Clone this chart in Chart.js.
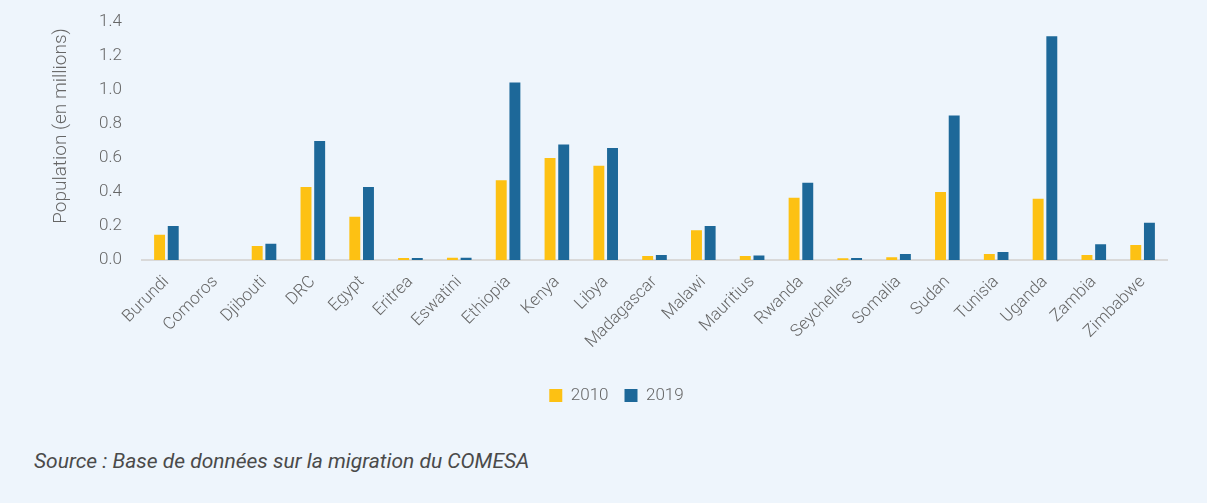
<!DOCTYPE html>
<html>
<head>
<meta charset="utf-8">
<script src="https://cdn.jsdelivr.net/npm/chart.js@4/dist/chart.umd.min.js"></script>
<style>
    html, body { margin: 0; padding: 0; background: #eef5fc; }
    .wrap { position: relative; width: 1207px; height: 503px; }
    #migration-chart { position: absolute; left: 0; top: 0; }
    .source {
        position: absolute; left: 34px; top: 449px;
        font-family: Roboto, sans-serif; font-style: italic; font-size: 21px;
        color: #4a4a4a;
    }
</style>
</head>
<body>
<div class="wrap">
    <canvas id="migration-chart" width="1207" height="420"></canvas>
    <div class="source">Source : Base de données sur la migration du COMESA</div>
</div>
<script>
const countries = ['Burundi', 'Comoros', 'Djibouti', 'DRC', 'Egypt', 'Eritrea', 'Eswatini', 'Ethiopia', 'Kenya', 'Libya',
    'Madagascar', 'Malawi', 'Mauritius', 'Rwanda', 'Seychelles', 'Somalia', 'Sudan', 'Tunisia', 'Uganda', 'Zambia', 'Zimbabwe'];
const pop2010 = [0.148, 0, 0.083, 0.43, 0.254, 0.012, 0.013, 0.47, 0.60, 0.555,
    0.024, 0.175, 0.024, 0.366, 0.010, 0.016, 0.40, 0.035, 0.36, 0.030, 0.089];
const pop2019 = [0.20, 0, 0.095, 0.70, 0.43, 0.012, 0.013, 1.045, 0.68, 0.66,
    0.030, 0.20, 0.026, 0.455, 0.012, 0.035, 0.85, 0.047, 1.317, 0.093, 0.22];
const yTicks = [0, 0.2, 0.4, 0.6, 0.8, 1.0, 1.2, 1.4];
const yTitle = 'Population (en millions)';

const grey = '#666666';
const font = { family: 'Roboto', weight: 300 };

// y title sits a bit above the middle of the plot, so it is drawn by hand
const yTitlePlugin = {
    id: 'yTitle',
    afterDraw(chart) {
        const c = chart.ctx;
        c.save();
        c.translate(61, 126);
        c.rotate(-Math.PI / 2);
        c.font = '300 19px Roboto';
        c.fillStyle = grey;
        c.textAlign = 'center';
        c.textBaseline = 'middle';
        c.fillText(yTitle, 0, 0);
        c.restore();
    }
};

// legend is centred on the page rather than on the chart box
const legendShift = {
    id: 'legendShift',
    afterLayout(chart) {
        chart.legend.left += 33;
        chart.legend.right += 33;
    }
};

function initChart() {
    const ctx = document.getElementById('migration-chart').getContext('2d');
    const chart = new Chart(ctx, {
        type: 'bar',
        data: {
            labels: countries,
            datasets: [{
                label: '2010',
                data: pop2010,
                backgroundColor: '#fdc113'
            }, {
                label: '2019',
                data: pop2019,
                backgroundColor: '#1d6899'
            }]
        },
        plugins: [yTitlePlugin, legendShift],
        options: {
            responsive: false,
            animation: false,
            categoryPercentage: 0.56,
            barPercentage: 0.8,
            layout: { padding: { top: 14, right: 40, bottom: 6, left: 0 } },
            plugins: {
                tooltip: { enabled: false },
                legend: {
                    position: 'bottom',
                    labels: {
                        boxWidth: 13,
                        boxHeight: 13,
                        padding: 16,
                        color: grey,
                        font: { ...font, size: 17 }
                    }
                }
            },
            scales: {
                x: {
                    grid: { display: false },
                    border: { color: '#d9d9d9', width: 2 },
                    ticks: {
                        color: grey,
                        font: { ...font, size: 17 },
                        minRotation: 45,
                        maxRotation: 45,
                        padding: 4
                    },
                    afterFit: (scale) => { scale.height = 111; }
                },
                y: {
                    min: 0,
                    max: 1.4,
                    grid: { display: false },
                    border: { display: false },
                    afterBuildTicks: (scale) => { scale.ticks = yTicks.map(v => ({ value: v })); },
                    afterFit: (scale) => { scale.width = 142; },
                    ticks: {
                        color: grey,
                        font: { ...font, size: 17 },
                        padding: 12,
                        callback: (v) => v.toFixed(1)
                    }
                }
            }
        }
    });
}

initChart();
</script>
</body>
</html>
